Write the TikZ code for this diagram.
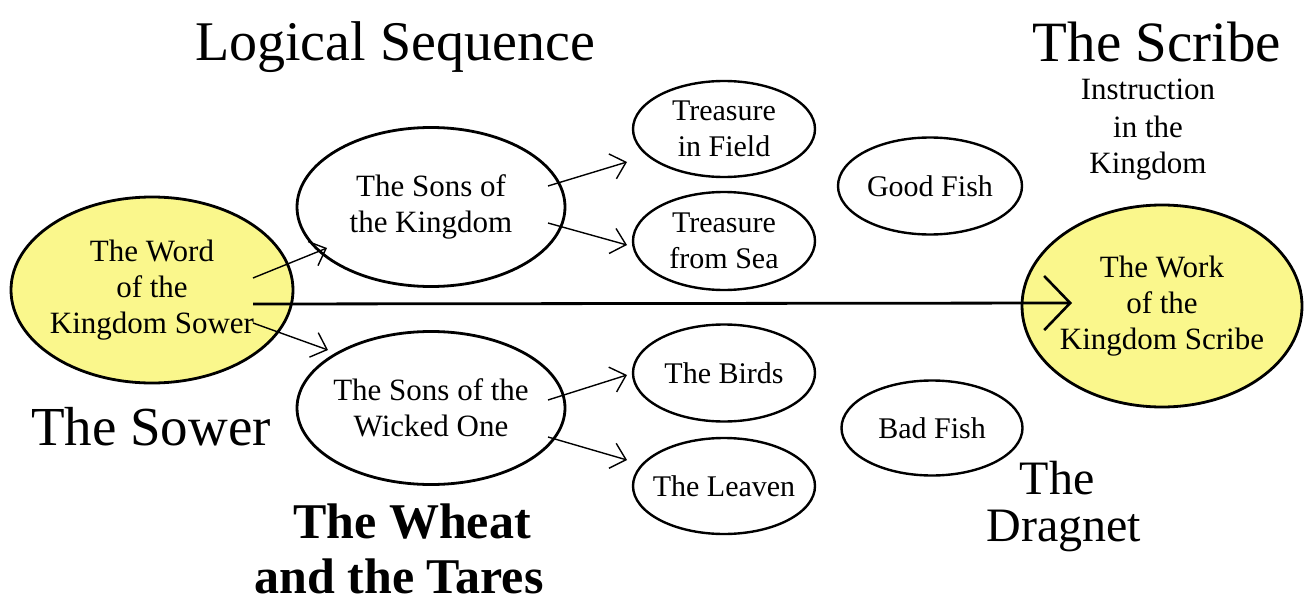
\documentclass[tikz,border=0pt]{standalone}
\usepackage{fontspec}
\setmainfont{Liberation Serif}
\usetikzlibrary{arrows.meta,calc,shapes.geometric}
\definecolor{ylw}{RGB}{250,247,140}
\tikzset{
  big/.style={ellipse,draw=black,line width=2.8pt,inner xsep=-60pt,inner ysep=-40pt,align=center,font=\fontsize{31}{36}\selectfont},
  small/.style={ellipse,draw=black,line width=2.4pt,inner xsep=-60pt,inner ysep=-40pt,align=center,minimum width=182pt,minimum height=97pt,font=\fontsize{30}{36}\selectfont},
  arr/.style={line width=1.4pt,-{Straight Barb[length=14pt,width=26pt,line width=1.4pt]}},
  mainarr/.style={line width=2.8pt,-{Straight Barb[length=26pt,width=54pt,line width=2.6pt]}},
  title/.style={anchor=base,inner sep=0pt,font=\fontsize{56}{62}\selectfont},
  sub/.style={anchor=base,inner sep=0pt,font=\fontsize{31}{36}\selectfont},
}
\begin{document}
\begin{tikzpicture}[x=1pt,y=-1pt]
\useasboundingbox (0,0) rectangle (1306,607);
% ellipses
\node[big,fill=ylw,minimum width=282pt,minimum height=186pt] (sower) at (152,290) {The Word\\of the\\Kingdom Sower};
\node[big,minimum width=268pt,minimum height=159pt] (sk) at (431,207) {The Sons of\\the Kingdom};
\node[big,minimum width=268pt,minimum height=153pt] (sw) at (431,408) {The Sons of the\\Wicked One};
\node[small,minimum height=96pt] (tf) at (724,129) {Treasure\\in Field};
\node[small,minimum height=98pt] (ts) at (724,241) {Treasure\\from Sea};
\node[small] (birds) at (724,373) {The Birds};
\node[small,minimum height=96pt] (leaven) at (724,486) {The Leaven};
\node[small,minimum width=184pt] (good) at (930,186) {Good Fish};
\node[small,minimum width=181pt,minimum height=95pt] (bad) at (932,428) {Bad Fish};
\node[big,fill=ylw,minimum width=280pt,minimum height=202pt] (scribe) at (1162,306) {The Work\\of the\\Kingdom Scribe};
% connectors
\draw[arr] ($(sower.center)+(101,-12)$) -- ($(sk.center)+(-104,41)$);
\draw[arr] ($(sower.center)+(101,33)$) -- ($(sw.center)+(-103,-58)$);
\draw[arr] ($(sk.center)+(117,-21)$) -- ($(tf.center)+(-97,33)$);
\draw[arr] ($(sk.center)+(117,16)$) -- ($(ts.center)+(-97,4)$);
\draw[arr] ($(sw.center)+(117,-8)$) -- ($(birds.center)+(-97,2)$);
\draw[arr] ($(sw.center)+(117,29)$) -- ($(leaven.center)+(-97,-26)$);
\draw[mainarr] ($(sower.center)+(101,14)$) -- ($(scribe.center)+(-90,-3)$);
% labels
\node[title] (logic) at (395,61) {Logical Sequence};
\node[title,font=\fontsize{57}{62}\selectfont] (scribet) at (1157,62) {The Scribe};
\node[sub] (ins1) at (1148,100) {Instruction};
\node[sub] (ins2) at (1148,138) {in the};
\node[sub] (ins3) at (1148,173) {Kingdom};
\node[title,font=\fontsize{55}{60}\selectfont] (sowert) at (151,445) {The Sower};
\node[title,font=\bfseries\fontsize{50}{55}\selectfont] (wheat1) at (412,538) {The Wheat};
\node[title,font=\bfseries\fontsize{50}{55}\selectfont] (wheat2) at (399,593) {and the Tares};
\node[title,font=\fontsize{48}{52}\selectfont] (drag1) at (1057,494) {The};
\node[title,font=\fontsize{48}{52}\selectfont] (drag2) at (1064,541) {Dragnet};
\end{tikzpicture}
\end{document}
